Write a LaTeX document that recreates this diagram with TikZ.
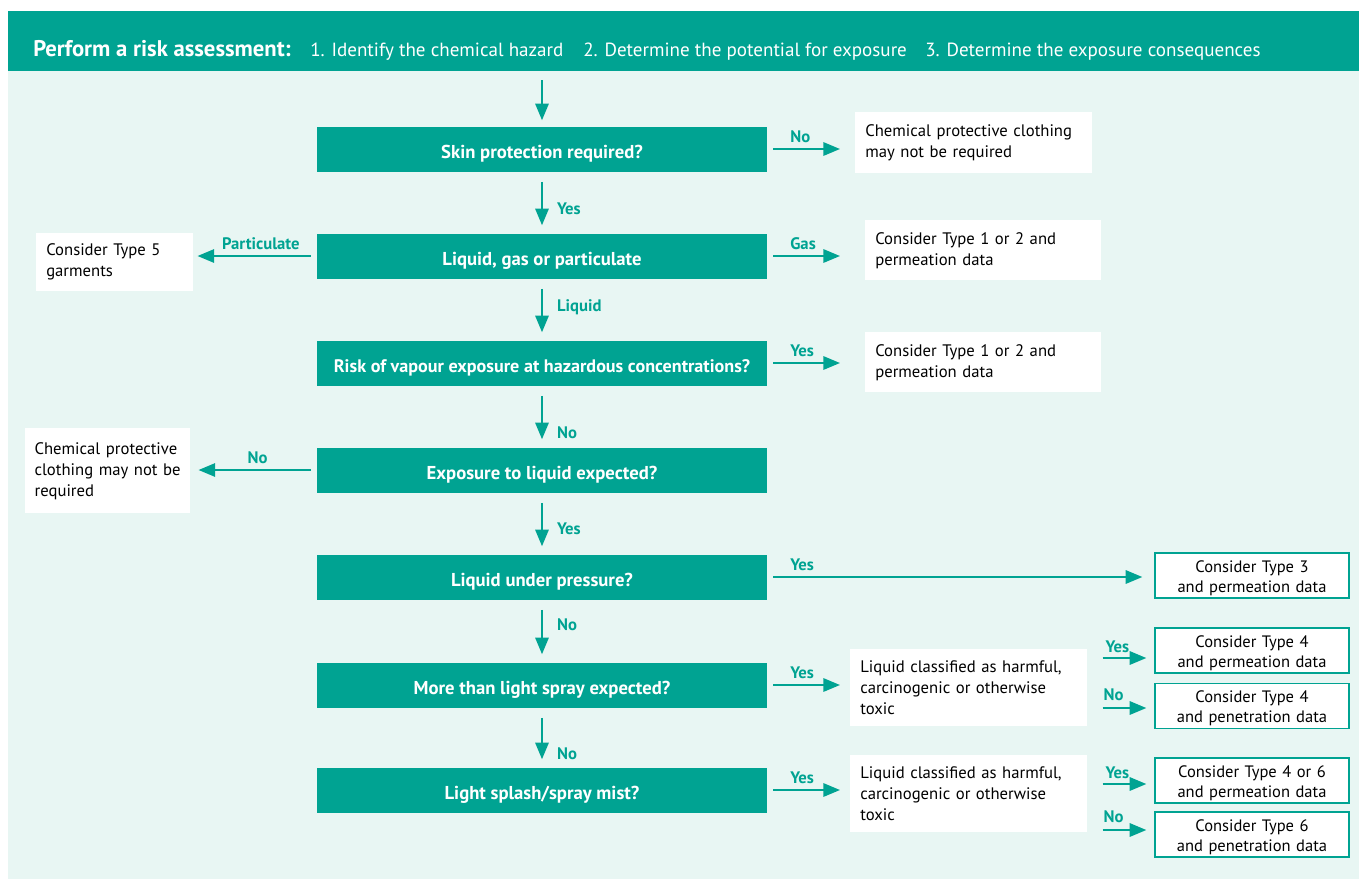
\documentclass[tikz,border=0pt]{standalone}
\usepackage{fontspec}
\setmainfont{PT Sans}
\usepackage{tikz}
\usetikzlibrary{positioning,arrows.meta}

\definecolor{riskteal}{RGB}{0,163,146}
\definecolor{risktint}{RGB}{232,246,243}
\newcommand\pxu{*0.75pt}

\begin{document}
\begin{tikzpicture}[x=0.75pt,y=-0.75pt,
    question/.style={fill=riskteal,text=white,font=\bfseries\fontsize{14}{16}\selectfont,
        minimum width=450\pxu,minimum height=45\pxu,inner sep=0pt,text height=13.5pt,text depth=0pt},
    advice/.style={fill=white,anchor=north west,align=left,inner xsep=7.5pt,inner ysep=0pt,
        font=\fontsize{12.5}{15.75}\selectfont},
    typebox/.style={fill=white,draw=riskteal,line width=1pt,align=center,inner sep=0pt,
        text width=142.5pt,text height=11pt,text depth=16pt,
        minimum width=194\pxu,minimum height=45\pxu,font=\fontsize{12.4}{15}\selectfont},
    flow/.style={draw=riskteal,line width=1.6pt,-{Triangle[length=12.5pt,width=10pt]}},
    lab/.style={text=riskteal,font=\bfseries\fontsize{12.5}{14}\selectfont,inner sep=0pt},
    steptext/.style={anchor=base west,text=white,inner sep=0pt,font=\fontsize{14.3}{17}\selectfont}]
    \useasboundingbox (0,0) rectangle (1359,879);
    \fill[risktint] (8,71) rectangle (1359,879);
    \fill[riskteal] (8,11) rectangle (1359,71);

    % header
    \node[anchor=base west,text=white,inner sep=0pt,font=\bfseries\fontsize{17}{20}\selectfont] (hd) at (33,56) {Perform a risk assessment:};
    \node[steptext] (st1) at (310,56) {1. Identify the chemical hazard};
    \node[steptext] (st2) at (583,56) {2. Determine the potential for exposure};
    \node[steptext] (st3) at (925,56) {3. Determine the exposure consequences};
    \coordinate (top) at (542,71);

    % questions
    \node[question] (skin) at (542,149) {Skin protection required?};
    \node[question] (phase) at (542,256) {Liquid, gas or particulate};
    \node[question,font=\bfseries\fontsize{13.6}{16}\selectfont] (vapour) at (542,363) {Risk of vapour exposure at hazardous concentrations?};
    \node[question] (expo) at (542,470) {Exposure to liquid expected?};
    \node[question] (press) at (542,577) {Liquid under pressure?};
    \node[question] (spray) at (542,685) {More than light spray expected?};
    \node[question] (mist) at (542,790) {Light splash/spray mist?};

    % outcomes
    \node[advice,text width=162.75pt,minimum height=61\pxu] (noskin) at (855,112) {Chemical protective clothing\\may not be required};
    \node[advice,text width=162pt,minimum height=60\pxu] (gas) at (865,220) {Consider Type 1 or 2 and\\permeation data};
    \node[advice,text width=162pt,minimum height=60\pxu] (vap) at (865,332) {Consider Type 1 or 2 and\\permeation data};
    \node[advice,text width=102.75pt,minimum height=58\pxu] (part) at (36,233) {Consider Type 5\\garments};
    \node[advice,inner xsep=7pt,text width=109.75pt,minimum height=85\pxu] (noliq) at (25,428) {Chemical protective\\clothing may not be\\required};
    \node[advice,text width=162.75pt,minimum height=77\pxu] (harm1) at (850,649) {Liquid classified as harmful,\\carcinogenic or otherwise\\toxic};
    \node[advice,text width=162.75pt,minimum height=77\pxu] (harm2) at (850,755) {Liquid classified as harmful,\\carcinogenic or otherwise\\toxic};

    \node[typebox] (t3) at (1252,575.5) {Consider Type 3\\and permeation data};
    \node[typebox] (t4a) at (1252,650.5) {Consider Type 4\\and permeation data};
    \node[typebox] (t4b) at (1252,706) {Consider Type 4\\and penetration data};
    \node[typebox] (t46) at (1252,780.5) {Consider Type 4 or 6\\and permeation data};
    \node[typebox] (t6) at (1252,834.5) {Consider Type 6\\and penetration data};

    % down the middle
    \draw[flow,shorten <=9\pxu,shorten >=6\pxu] (top) -- (skin.north);
    \draw[flow,shorten <=10\pxu,shorten >=8\pxu] (skin.south) -- node[lab,anchor=west,pos=0.61,xshift=14\pxu]{Yes} (phase.north);
    \draw[flow,shorten <=10\pxu,shorten >=8\pxu] (phase.south) -- node[lab,anchor=west,pos=0.46,xshift=14\pxu]{Liquid} (vapour.north);
    \draw[flow,shorten <=10\pxu,shorten >=8\pxu] (vapour.south) -- node[lab,anchor=west,pos=0.77,xshift=14\pxu]{No} (expo.north);
    \draw[flow,shorten <=10\pxu,shorten >=8\pxu] (expo.south) -- node[lab,anchor=west,pos=0.59,xshift=14\pxu]{Yes} (press.north);
    \draw[flow,shorten <=10\pxu,shorten >=8\pxu] (press.south) -- node[lab,anchor=west,pos=0.4,xshift=14\pxu]{No} (spray.north);
    \draw[flow,shorten <=10\pxu,shorten >=8\pxu] (spray.south) -- node[lab,anchor=west,pos=0.77,xshift=14\pxu]{No} (mist.north);

    % to the right
    \draw[flow,shorten <=6\pxu,shorten >=15\pxu] (skin.east) -- node[lab,anchor=south west,pos=0,xshift=22\pxu,yshift=5\pxu]{No} (skin.east -| noskin.west);
    \draw[flow,shorten <=6\pxu,shorten >=25\pxu] (phase.east) -- node[lab,anchor=south west,pos=0,xshift=22\pxu,yshift=5\pxu]{Gas} (phase.east -| gas.west);
    \draw[flow,shorten <=6\pxu,shorten >=25\pxu] (vapour.east) -- node[lab,anchor=south west,pos=0,xshift=22\pxu,yshift=5\pxu]{Yes} (vapour.east -| vap.west);
    \draw[flow,shorten <=6\pxu,shorten >=12\pxu] (press.east) -- node[lab,anchor=south west,pos=0,xshift=22\pxu,yshift=5\pxu]{Yes} (press.east -| t3.west);
    \draw[flow,shorten <=6\pxu,shorten >=10\pxu] (spray.east) -- node[lab,anchor=south west,pos=0,xshift=22\pxu,yshift=5\pxu]{Yes} (spray.east -| harm1.west);
    \draw[flow,shorten <=6\pxu,shorten >=10\pxu] (mist.east) -- node[lab,anchor=south west,pos=0,xshift=22\pxu,yshift=5\pxu]{Yes} (mist.east -| harm2.west);

    % to the left
    \draw[flow,shorten <=6\pxu,shorten >=4\pxu] (phase.west) -- node[lab,anchor=south east,pos=0,xshift=-16\pxu,yshift=5\pxu]{Particulate} (phase.west -| part.east);
    \draw[flow,shorten <=6\pxu,shorten >=8\pxu] (expo.west) -- node[lab,anchor=south,pos=0.5,xshift=4\pxu,yshift=5\pxu]{No} (expo.west -| noliq.east);

    % harmful or not
    \coordinate (y4a) at (0,658);
    \coordinate (y4b) at (0,708);
    \coordinate (y46) at (0,784);
    \coordinate (y6) at (0,830);
    \draw[flow,shorten <=15\pxu,shorten >=8\pxu] (harm1.east |- y4a) -- node[lab,anchor=south west,pos=0,xshift=17\pxu,yshift=4\pxu]{Yes} (t4a.west |- y4a);
    \draw[flow,shorten <=15\pxu,shorten >=8\pxu] (harm1.east |- y4b) -- node[lab,anchor=south west,pos=0,xshift=15\pxu,yshift=6\pxu]{No} (t4b.west |- y4b);
    \draw[flow,shorten <=15\pxu,shorten >=8\pxu] (harm2.east |- y46) -- node[lab,anchor=south west,pos=0,xshift=17\pxu,yshift=4\pxu]{Yes} (t46.west |- y46);
    \draw[flow,shorten <=15\pxu,shorten >=8\pxu] (harm2.east |- y6) -- node[lab,anchor=south west,pos=0,xshift=15\pxu,yshift=6\pxu]{No} (t6.west |- y6);
\end{tikzpicture}
\end{document}
